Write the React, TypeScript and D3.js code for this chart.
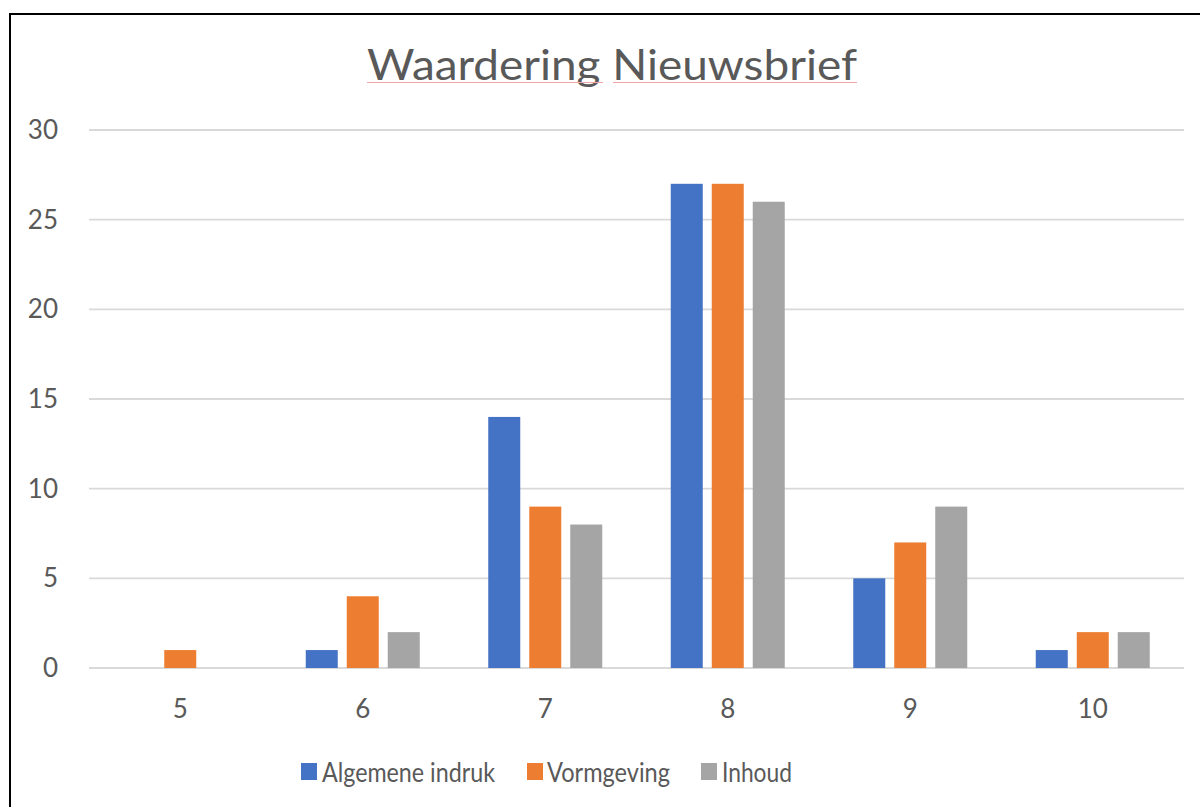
import React from "react";
import * as d3 from "d3";

const categories = ["5", "6", "7", "8", "9", "10"];
const seriesNames = ["Algemene indruk", "Vormgeving", "Inhoud"];
const algemeneIndruk = [0, 1, 14, 27, 5, 1];
const vormgeving = [1, 4, 9, 27, 7, 2];
const inhoud = [0, 2, 8, 26, 9, 2];
const yTicks = [0, 5, 10, 15, 20, 25, 30];
const colors = ["#4472C4", "#ED7D31", "#A5A5A5"];

const W = 1200;
const H = 807;
const FONT = "Lato, 'Open Sans', sans-serif";
const TEXT = "#595959";

export default function App() {
  const series = [algemeneIndruk, vormgeving, inhoud];
  const plot = { left: 89, right: 1184, top: 130, bottom: 668 };

  const x0 = d3.scaleBand<string>().domain(categories).range([plot.left, plot.right]).padding(0);
  const groupW = 114;
  const x1 = d3
    .scaleBand<number>()
    .domain([0, 1, 2])
    .range([0, groupW])
    .paddingInner(9 / 41)
    .paddingOuter(0);
  const y = d3.scaleLinear().domain([0, 30]).range([plot.bottom, plot.top]);

  const legend = [
    { sx: 301, tx: 322, w: 173 },
    { sx: 527, tx: 547, w: 123 },
    { sx: 701, tx: 722, w: 70 },
  ];

  return (
    <svg width={W} height={H} style={{ position: "absolute", left: 0, top: 0, background: "#fff" }}>
      <rect x={10} y={14} width={W + 10} height={H + 10} fill="#fff" stroke="#000" strokeWidth={2} />

      {/* title */}
      <text
        x={367}
        y={80}
        fontFamily={FONT}
        fontSize={42}
        fill={TEXT}
        textLength={490}
        lengthAdjust="spacingAndGlyphs"
      >
        Waardering Nieuwsbrief
      </text>
      <line x1={367} x2={603} y1={82.5} y2={82.5} stroke="#f4a6a6" strokeWidth={1} />
      <line x1={613} x2={857} y1={82.5} y2={82.5} stroke="#f4a6a6" strokeWidth={1} />

      {/* grid + y labels */}
      {yTicks.map((t) => (
        <g key={t}>
          <line x1={plot.left} x2={plot.right} y1={y(t)} y2={y(t)} stroke="#d9d9d9" strokeWidth={1.8} />
          <text
            x={58}
            y={y(t)}
            dy="0.35em"
            textAnchor="end"
            fontFamily={FONT}
            fontSize={26}
            fill={TEXT}
          >
            {t}
          </text>
        </g>
      ))}

      {/* bars */}
      {categories.map((c, ci) => {
        const gx = x0(c)! + x0.bandwidth() / 2 - groupW / 2;
        return (
          <g key={c}>
            {series.map((s, si) =>
              s[ci] > 0 ? (
                <rect
                  key={si}
                  x={gx + x1(si)!}
                  y={y(s[ci])}
                  width={x1.bandwidth()}
                  height={y(0) - y(s[ci])}
                  fill={colors[si]}
                />
              ) : null
            )}
            <text
              x={x0(c)! + x0.bandwidth() / 2}
              y={718}
              textAnchor="middle"
              fontFamily={FONT}
              fontSize={26}
              fill={TEXT}
            >
              {c}
            </text>
          </g>
        );
      })}

      {/* legend */}
      {seriesNames.map((n, i) => (
        <g key={n}>
          <rect x={legend[i].sx} y={763} width={16} height={17} fill={colors[i]} />
          <text
            x={legend[i].tx}
            y={782}
            fontFamily={FONT}
            fontSize={27}
            fill={TEXT}
            textLength={legend[i].w}
            lengthAdjust="spacingAndGlyphs"
          >
            {n}
          </text>
        </g>
      ))}
    </svg>
  );
}
